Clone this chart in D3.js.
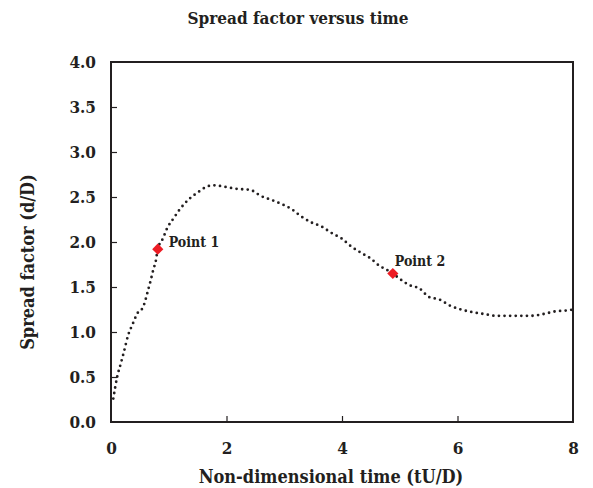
<!DOCTYPE html>
<html>
<head>
<meta charset="utf-8">
<script src="https://cdn.jsdelivr.net/npm/d3@7"></script>
<style>
  body { margin: 0; background: #fff; }
  svg text { font-family: "DejaVu Serif Condensed", "DejaVu Serif", serif; font-weight: bold; fill: #231f20; }
</style>
</head>
<body>
<div id="chart"></div>
<script>
// Spread factor curve
const timeValues = [0.04, 0.11, 0.17, 0.22, 0.30, 0.37, 0.46, 0.55, 0.58, 0.64, 0.69, 0.74, 0.77, 0.81,
    0.90, 0.97, 1.08, 1.20, 1.34, 1.50, 1.68, 1.78, 2.00, 2.19, 2.40, 2.48, 2.57, 2.77, 2.96, 3.14,
    3.28, 3.46, 3.65, 3.82, 3.99, 4.16, 4.33, 4.49, 4.66, 4.75, 4.88, 4.98, 5.17, 5.35, 5.43, 5.50,
    5.69, 5.88, 6.06, 6.26, 6.46, 6.67, 6.88, 7.07, 7.28, 7.49, 7.70, 7.90, 8.00];
const spreadValues = [0.26, 0.51, 0.65, 0.77, 0.97, 1.08, 1.21, 1.27, 1.32, 1.46, 1.58, 1.71, 1.77, 1.92,
    2.04, 2.15, 2.26, 2.37, 2.47, 2.55, 2.62, 2.63, 2.61, 2.59, 2.58, 2.56, 2.52, 2.47, 2.42, 2.36,
    2.29, 2.22, 2.17, 2.10, 2.04, 1.95, 1.88, 1.82, 1.73, 1.70, 1.65, 1.60, 1.52, 1.48, 1.43, 1.39,
    1.36, 1.29, 1.25, 1.22, 1.20, 1.18, 1.18, 1.18, 1.18, 1.20, 1.23, 1.24, 1.25];

const pointNames = ["Point 1", "Point 2"];
const pointTimes = [0.81, 4.88];
const pointSpreads = [1.92, 1.65];

const xTicks = [0, 2, 4, 6, 8];
const yTicks = [0, 0.5, 1, 1.5, 2, 2.5, 3, 3.5, 4];

const W = 593, H = 488;
const margin = { top: 62, right: 20, bottom: 66, left: 111 };
const width = W - margin.left - margin.right,
    height = H - margin.top - margin.bottom;

const svg = d3.select("#chart").append("svg")
    .attr("width", W)
    .attr("height", H);

const g = svg.append("g")
    .attr("transform", `translate(${margin.left},${margin.top})`);

const x = d3.scaleLinear().domain([0, 8]).range([0, width]);
const y = d3.scaleLinear().domain([0, 4]).range([height, 0]);

// frame
g.append("rect")
    .attr("width", width)
    .attr("height", height)
    .attr("fill", "none")
    .attr("stroke", "#231f20")
    .attr("stroke-width", 2);

// axes, ticks pointing inward
const xAxis = g.append("g")
    .attr("transform", `translate(0,${height})`)
    .call(d3.axisBottom(x).tickValues(xTicks).tickSize(-6).tickPadding(20).tickFormat(d3.format("d")));
const yAxis = g.append("g")
    .call(d3.axisLeft(y).tickValues(yTicks).tickSize(-6).tickPadding(15).tickFormat(d3.format(".1f")));

[xAxis, yAxis].forEach(a => {
    a.select(".domain").remove();
    a.selectAll(".tick line").attr("stroke", "#231f20").attr("stroke-width", 1.2);
    a.selectAll(".tick text").style("font-size", "17px").attr("font-family", null);
});
xAxis.selectAll(".tick").filter(d => d === 0 || d === 8).select("line").remove();
yAxis.selectAll(".tick").filter(d => d === 0 || d === 4).select("line").remove();

// dotted curve
const line = d3.line()
    .x((d, i) => x(timeValues[i]))
    .y(d => y(d))
    .curve(d3.curveMonotoneX);

g.append("path")
    .datum(spreadValues)
    .attr("fill", "none")
    .attr("stroke", "#231f20")
    .attr("stroke-width", 2.8)
    .attr("stroke-linecap", "round")
    .attr("stroke-dasharray", "0,5.6")
    .attr("d", line);

// marked points
g.selectAll(".pt")
    .data(pointTimes)
    .join("path")
    .attr("class", "pt")
    .attr("transform", (d, i) => `translate(${x(d)},${y(pointSpreads[i])})`)
    .attr("d", d3.symbol(d3.symbolDiamond2, 80))
    .attr("fill", "#ed1c24");

g.selectAll(".pt-label")
    .data(pointNames)
    .join("text")
    .attr("class", "pt-label")
    .attr("x", (d, i) => x(pointTimes[i]) + (i === 0 ? 11 : 2))
    .attr("y", (d, i) => y(pointSpreads[i]) + (i === 0 ? -2 : -8))
    .style("font-size", "14px")
    .text(d => d);

// titles
svg.append("text")
    .attr("x", 298)
    .attr("y", 24)
    .attr("text-anchor", "middle")
    .style("font-size", "17px")
    .text("Spread factor versus time");

svg.append("text")
    .attr("x", 331)
    .attr("y", 483)
    .attr("text-anchor", "middle")
    .style("font-size", "18px")
    .text("Non-dimensional time (tU/D)");

svg.append("text")
    .attr("transform", `translate(34,262) rotate(-90)`)
    .attr("text-anchor", "middle")
    .style("font-size", "18px")
    .text("Spread factor (d/D)");
</script>
</body>
</html>
